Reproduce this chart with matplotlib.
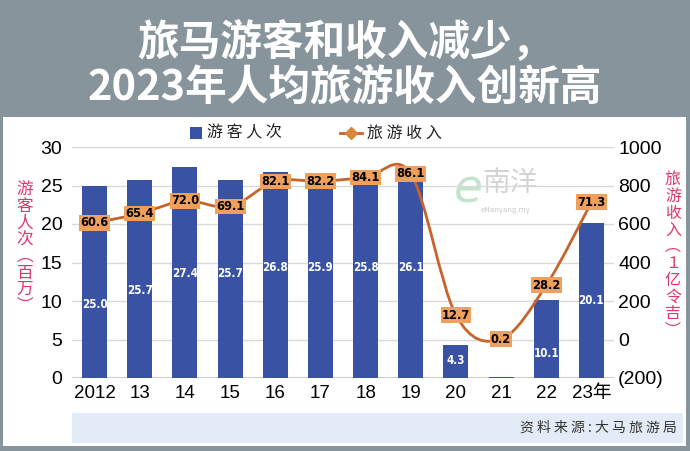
import matplotlib
matplotlib.use("Agg")
import matplotlib.pyplot as plt
import numpy as np
from matplotlib.path import Path
from matplotlib.patches import PathPatch, Rectangle
from matplotlib.lines import Line2D
from matplotlib import font_manager
from matplotlib.font_manager import FontProperties

plt.rcParams['font.family'] = ['Noto Sans CJK SC', 'DejaVu Sans']

years = ["2012", "13", "14", "15", "16", "17", "18", "19", "20", "21", "22", "23年"]
visitors = [25.0, 25.7, 27.4, 25.7, 26.8, 25.9, 25.8, 26.1, 4.3, 0.1, 10.1, 20.1]   # million
receipts = [60.6, 65.4, 72.0, 69.1, 82.1, 82.2, 84.1, 86.1, 12.7, 0.2, 28.2, 71.3]  # RM billion
left_ticks = [0, 5, 10, 15, 20, 25, 30]
right_ticks = [-200, 0, 200, 400, 600, 800, 1000]
right_tick_labels = ["(200)", "0", "200", "400", "600", "800", "1000"]
title_lines = ["旅马游客和收入减少，", "2023年人均旅游收入创新高"]
source_text = "资 料 来 源 : 大 马 旅 游 局"

# layout-only: height (left-axis units) of white bar labels
bar_label_y = [9.5, 11.4, 13.6, 13.6, 14.4, 14.4, 14.4, 14.4, 2.3, None, 3.2, 10.1]

# condensed bold font if available
cond = None
for f in font_manager.fontManager.ttflist:
    if f.fname.endswith('DejaVuSansCondensed-Bold.ttf'):
        cond = f.fname
        break
if cond:
    bar_fp = FontProperties(fname=cond, size=8.3)
    line_fp = FontProperties(fname=cond, size=9.2)
else:
    bar_fp = FontProperties(family='DejaVu Sans', weight='bold', size=7.8)
    line_fp = FontProperties(family='DejaVu Sans', weight='bold', size=8.5)

W, H = 690, 451
fig = plt.figure(figsize=(W / 100, H / 100), dpi=100)
fig.patch.set_facecolor('#87949c')

def fx(x): return x / W
def fy(y): return 1 - y / H

# white panel
fig.patches.append(Rectangle((fx(3), fy(446)), fx(683), (446 - 117) / H,
                             transform=fig.transFigure, fc='white', ec='none', zorder=-3))
# source box
fig.patches.append(Rectangle((fx(72), fy(443)), fx(611), (443 - 413) / H,
                             transform=fig.transFigure, fc='#e2ebf6', ec='none', zorder=-2))

# titles
fig.text(0.5, fy(42), title_lines[0], ha='center', va='center', color='white',
         fontsize=30, fontweight='bold')
fig.text(0.5, fy(88), title_lines[1], ha='center', va='center', color='white',
         fontsize=30, fontweight='bold')

ax = fig.add_axes([fx(72), fy(378), (614 - 72) / W, (378 - 147) / H])
ax.set_facecolor('none')
ax2 = ax.twinx()
ax2.set_facecolor('none')

x = np.arange(len(years))
bar_color = '#3a52a3'
line_color = '#c8632c'

ax.bar(x, visitors, width=0.55, color=bar_color, zorder=2)
ax.set_xlim(-0.5, len(years) - 0.5)
ax.set_ylim(0, 30)
ax.set_yticks(left_ticks)
ax.set_yticklabels([str(t) for t in left_ticks], fontsize=14, family=['Liberation Sans', 'DejaVu Sans'])
ax.set_xticks(x)
ax.set_xticklabels(years, fontsize=13.5, family=['Liberation Sans', 'Noto Sans CJK SC'])
ax.tick_params(axis='both', length=0)
ax.tick_params(axis='x', pad=5)
ax.tick_params(axis='y', pad=7)
ax.grid(axis='y', color='#d9d9d9', linewidth=1, zorder=0)
ax.set_axisbelow(True)
for s in ax.spines.values():
    s.set_visible(False)
ax.axhline(0, color='#c4c4c4', linewidth=1.2, zorder=1)

for i, (v, ly) in enumerate(zip(visitors, bar_label_y)):
    if ly is None:
        continue
    ax.text(i, ly, f"{v:.1f}", ha='center', va='center', color='white',
            fontproperties=bar_fp, zorder=4)

# right axis: receipts in 亿令吉 (x10 of billion)
vals = np.array(receipts) * 10
ax2.set_ylim(-200, 1000)
ax2.set_yticks(right_ticks)
ax2.set_yticklabels(right_tick_labels, fontsize=14, family=['Liberation Sans', 'DejaVu Sans'])
ax2.tick_params(axis='y', length=0, pad=3)
for s in ax2.spines.values():
    s.set_visible(False)

# smooth curve (Catmull-Rom as cubic Bezier)
pts = np.column_stack([x, vals])
verts = [pts[0]]
codes = [Path.MOVETO]
n = len(pts)
for i in range(n - 1):
    p0 = pts[i - 1] if i > 0 else pts[i]
    p1 = pts[i]
    p2 = pts[i + 1]
    p3 = pts[i + 2] if i + 2 < n else pts[i + 1]
    c1 = p1 + (p2 - p0) / 6
    c2 = p2 - (p3 - p1) / 6
    verts += [c1, c2, p2]
    codes += [Path.CURVE4] * 3
ax2.add_patch(PathPatch(Path(verts, codes), fc='none', ec=line_color, lw=2, zorder=3))

for i, r in enumerate(receipts):
    ax2.text(i, vals[i], f"{r:.1f}", ha='center', va='center', color='black',
             fontproperties=line_fp, zorder=5,
             bbox=dict(boxstyle='square,pad=0.1', fc='#f0a05a', ec='none'))

# axis titles (vertical)
label_color = '#e0386a'
fig.text(fx(25), fy(248), "游\n客\n人\n次\n︵\n百\n万\n︶", ha='center', va='center',
         color=label_color, fontsize=12, linespacing=0.98)
fig.text(fx(673), fy(255), "旅\n游\n收\n入\n︵\n１\n亿\n令\n吉\n︶", ha='center', va='center',
         color=label_color, fontsize=11.5, linespacing=0.98)

# legend
fig.patches.append(Rectangle((fx(190), fy(139)), fx(12), 12 / H, transform=fig.transFigure,
                             fc=bar_color, ec='none'))
fig.text(fx(207), fy(133), "游 客 人 次", ha='left', va='center', fontsize=11.5, color='#222222')
fig.lines.append(Line2D([fx(340), fx(362)], [fy(133), fy(133)], transform=fig.transFigure,
                       color=line_color, lw=2, marker=None))
fig.lines.append(Line2D([fx(351)], [fy(133)], transform=fig.transFigure, color='#d9883a',
                        marker='D', markersize=6, lw=0))
fig.text(fx(367), fy(133), "旅 游 收 入", ha='left', va='center', fontsize=11.5, color='#222222')

# watermark
fig.text(fx(468), fy(190), "e", ha='center', va='center', fontsize=34, style='italic',
         color='#b5dcc4', family='DejaVu Sans', alpha=0.8, zorder=-1)
fig.text(fx(510), fy(183), "南洋", ha='center', va='center', fontsize=20,
         color='#c9c9c9', alpha=0.8, zorder=-1)
fig.text(fx(505), fy(210), "eNanyang.my", ha='center', va='center', fontsize=5.5,
         color='#c9c9c9', zorder=-1)

# source
fig.text(fx(677), fy(428), source_text, ha='right', va='center', fontsize=10, color='#333333')

fig.savefig("out.png", dpi=100, facecolor=fig.get_facecolor())
